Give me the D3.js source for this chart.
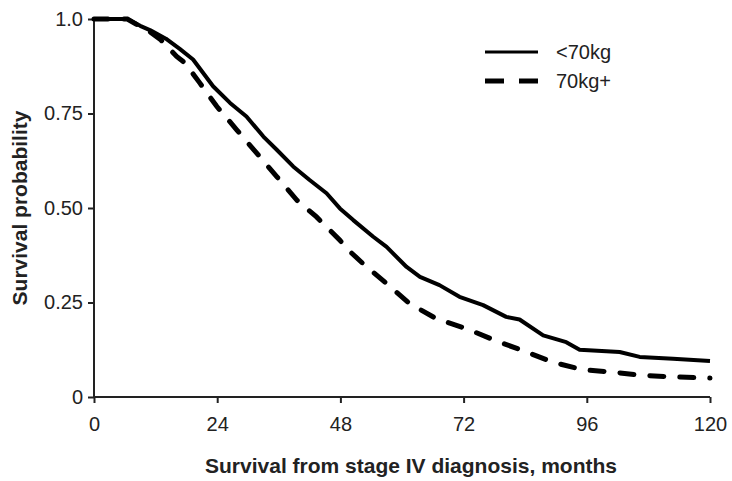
<!DOCTYPE html>
<html>
<head>
<meta charset="utf-8">
<script src="https://cdn.jsdelivr.net/npm/d3@7"></script>
<style>
  body { margin: 0; background: #fff; }
  svg text { font-family: "Liberation Sans", Arial, sans-serif; fill: #222; }
</style>
</head>
<body>
<svg id="kmSvg" width="732" height="481"></svg>
<script>
// values
const lightMonths = [0, 6.5, 9, 11, 14, 16.7, 19.3, 23.2, 26.5, 29.7, 33, 35.6, 38.8, 42, 45.3, 47.9, 50.5, 54.4, 57, 60.9, 63.5, 67.3, 71.2, 75.8, 80.3, 82.9, 87.5, 92, 94.6, 102.4, 106.3, 112.8, 120];
const lightSurv = [1, 1, 0.982, 0.97, 0.948, 0.921, 0.893, 0.822, 0.778, 0.742, 0.689, 0.654, 0.61, 0.574, 0.539, 0.499, 0.468, 0.424, 0.397, 0.344, 0.318, 0.296, 0.265, 0.243, 0.212, 0.205, 0.163, 0.145, 0.125, 0.119, 0.106, 0.101, 0.095];

const heavyMonths = [0, 6.5, 9, 11, 13, 16.1, 17.7, 20.6, 23.9, 27.8, 31.7, 35.6, 39.5, 43.3, 47.9, 49.2, 52.4, 57, 61.5, 66.7, 72.5, 79, 83.5, 89.4, 95.2, 101, 106.9, 113.4, 120];
const heavySurv = [1, 1, 0.98, 0.965, 0.945, 0.901, 0.884, 0.831, 0.769, 0.707, 0.645, 0.583, 0.521, 0.477, 0.415, 0.393, 0.353, 0.3, 0.247, 0.207, 0.181, 0.145, 0.123, 0.092, 0.072, 0.066, 0.057, 0.053, 0.05];

const seriesNames = ["<70kg", "70kg+"];
const xTicks = [0, 24, 48, 72, 96, 120];
const yTicks = [0, 0.25, 0.5, 0.75, 1.0];
const yTickLabels = ["0", "0.25", "0.50", "0.75", "1.0"];

const svg = d3.select("#kmSvg");
const margin = { top: 19, right: 22, bottom: 84, left: 94 };
const width = +svg.attr("width") - margin.left - margin.right;
const height = +svg.attr("height") - margin.top - margin.bottom;

const g = svg.append("g").attr("transform", `translate(${margin.left},${margin.top})`);

const x = d3.scaleLinear().domain([0, 120]).range([0, width]);
const y = d3.scaleLinear().domain([0, 1]).range([height, 0]);

const line = d3.line()
    .x(d => x(d[0]))
    .y(d => y(d[1]));

const lightData = lightMonths.map((m, i) => [m, lightSurv[i]]);
const heavyData = heavyMonths.map((m, i) => [m, heavySurv[i]]);

// axes
const yAxis = g.append("g")
    .call(d3.axisLeft(y).tickValues(yTicks).tickSize(6).tickPadding(5)
        .tickFormat((d, i) => yTickLabels[i]));
const xAxis = g.append("g")
    .attr("transform", `translate(0,${height})`)
    .call(d3.axisBottom(x).tickValues(xTicks).tickSize(6).tickPadding(14));

[xAxis, yAxis].forEach(a => {
    a.select(".domain").attr("stroke", "#222").attr("stroke-width", 2)
        .attr("d", a === xAxis ? `M0,0H${width}` : `M0,0V${height}`);
    a.selectAll(".tick line").attr("stroke", "#222").attr("stroke-width", 2);
    a.selectAll(".tick text").attr("font-size", 20).attr("fill", "#333")
        .style("font-family", "'Liberation Sans', Arial, sans-serif");
});

// curves
g.append("path")
    .datum(heavyData)
    .attr("fill", "none")
    .attr("stroke", "#000")
    .attr("stroke-width", 5)
    .attr("stroke-dasharray", "14,16")
    .attr("stroke-linecap", "round")
    .attr("d", line);

g.append("path")
    .datum(lightData)
    .attr("fill", "none")
    .attr("stroke", "#000")
    .attr("stroke-width", 4)
    .attr("stroke-linejoin", "round")
    .attr("d", line);

// legend
const legend = svg.append("g").attr("transform", "translate(485,52)");
legend.append("line").attr("x1", 0).attr("x2", 53).attr("y1", 0).attr("y2", 0)
    .attr("stroke", "#000").attr("stroke-width", 2.8);
legend.append("line").attr("x1", 0).attr("x2", 53).attr("y1", 29).attr("y2", 29)
    .attr("stroke", "#000").attr("stroke-width", 5).attr("stroke-dasharray", "19,15");
legend.selectAll("text.lab")
    .data(seriesNames)
    .enter()
    .append("text")
    .attr("class", "lab")
    .attr("x", 71)
    .attr("y", (d, i) => 7 + i * 29)
    .attr("font-size", 20)
    .attr("fill", "#333")
    .text(d => d);

// axis titles
svg.append("text")
    .attr("x", 411)
    .attr("y", 473)
    .attr("text-anchor", "middle")
    .attr("font-size", 21)
    .attr("font-weight", "bold")
    .text("Survival from stage IV diagnosis, months");

svg.append("text")
    .attr("transform", "translate(27,208) rotate(-90)")
    .attr("text-anchor", "middle")
    .attr("font-size", 21)
    .attr("font-weight", "bold")
    .text("Survival probability");
</script>
</body>
</html>
